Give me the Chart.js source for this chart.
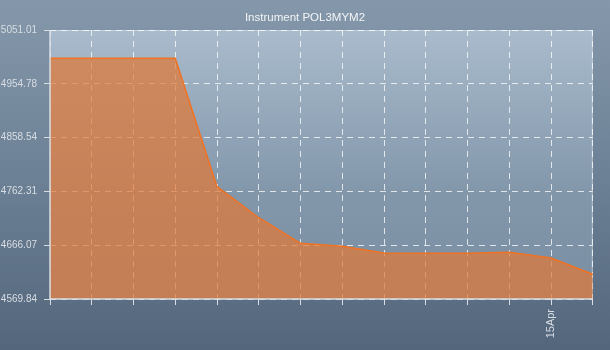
<!DOCTYPE html>
<html>
<head>
<meta charset="utf-8">
<script src="https://cdn.jsdelivr.net/npm/chart.js@4.4.0/dist/chart.umd.min.js"></script>
<style>
html,body{margin:0;padding:0;}
body{width:610px;height:350px;background:linear-gradient(to bottom,#8598ab 0%,#6d8196 50%,#53667c 100%);}
#wrap{position:relative;width:610px;height:350px;}
</style>
</head>
<body>
<div id="wrap"><canvas id="c" width="610" height="350"></canvas></div>
<script>
const chartTitle = "Instrument POL3MYM2";
const categories = ["", "", "", "", "", "", "", "", "", "", "", "", "15Apr", ""];
const values = [5000.4, 5000.4, 5000.4, 5000.4, 4770.7, 4715.2, 4669.4, 4664.0, 4652.0, 4651.8, 4651.8, 4653.3, 4643.0, 4614.0];
const yTicks = [4569.84, 4666.07, 4762.31, 4858.54, 4954.78, 5051.01];

const plotBg = {
  id: 'plotBg',
  beforeDraw(chart) {
    const {ctx, chartArea: a} = chart;
    const g = ctx.createLinearGradient(0, a.top, 0, a.bottom);
    g.addColorStop(0, '#a9bbcc');
    g.addColorStop(0.6, '#8397ab');
    g.addColorStop(1, '#7a8ea3');
    ctx.save();
    ctx.fillStyle = g;
    ctx.fillRect(a.left, a.top, a.right - a.left, a.bottom - a.top);
    ctx.strokeStyle = 'rgba(220,225,232,0.6)';
    ctx.lineWidth = 1;
    ctx.beginPath();
    ctx.moveTo(a.left, a.top + 0.5);
    ctx.lineTo(a.right - 0.5, a.top + 0.5);
    ctx.lineTo(a.right - 0.5, a.bottom);
    ctx.stroke();
    ctx.restore();
  },
  afterDatasetsDraw(chart) {
    const {ctx, chartArea: a} = chart;
    ctx.save();
    ctx.strokeStyle = '#d8dde3';
    ctx.lineWidth = 1.5;
    ctx.setLineDash([]);
    ctx.beginPath();
    ctx.moveTo(a.left, a.top);
    ctx.lineTo(a.left, a.bottom);
    ctx.lineTo(a.right, a.bottom);
    ctx.stroke();
    ctx.restore();
  }
};

const gridOpts = {
  color: 'rgba(255,255,255,0.75)',
  tickLength: 6,
  tickColor: '#d8dde3',
  tickBorderDash: [],
  tickWidth: 1,
  drawTicks: true
};

new Chart(document.getElementById('c'), {
  type: 'line',
  data: {
    labels: categories,
    datasets: [{
      data: values,
      borderColor: '#f07222',
      borderWidth: 1.5,
      backgroundColor: 'rgba(225,120,55,0.72)',
      fill: 'start',
      pointRadius: 0,
      tension: 0
    }]
  },
  options: {
    responsive: false,
    animation: false,
    layout: {padding: {top: 0, right: 0, left: 0, bottom: 0}},
    plugins: {
      legend: {display: false},
      tooltip: {enabled: false},
      title: {
        display: true,
        text: chartTitle,
        color: '#f2f4f6',
        font: {family: 'Liberation Sans', size: 11.5, weight: 'normal', lineHeight: 1.2},
        padding: {top: 11, bottom: 5.2}
      }
    },
    scales: {
      x: {
        type: 'category',
        offset: false,
        afterFit(s) { s.height = 51; },
        border: {display: false, dash: [6, 5]},
        grid: gridOpts,
        ticks: {
          autoSkip: false,
          minRotation: 90,
          maxRotation: 90,
          color: '#d8dde3',
          padding: 4,
          font: {family: 'Liberation Sans', size: 11}
        }
      },
      y: {
        min: yTicks[0],
        max: yTicks[yTicks.length - 1],
        afterFit(s) { s.width = 50; },
        afterBuildTicks(s) { s.ticks = yTicks.map(v => ({value: v})); },
        border: {display: false, dash: [6, 5]},
        grid: gridOpts,
        ticks: {
          color: '#d8dde3',
          padding: 7,
          font: {family: 'Liberation Sans', size: 10},
          callback: v => Number(v).toFixed(2)
        }
      },
      yPad: {
        position: 'right',
        display: true,
        afterFit(s) { s.width = 14; },
        grid: {display: false, drawTicks: false},
        border: {display: false},
        ticks: {display: false}
      }
    }
  },
  plugins: [plotBg]
});
</script>
</body>
</html>
